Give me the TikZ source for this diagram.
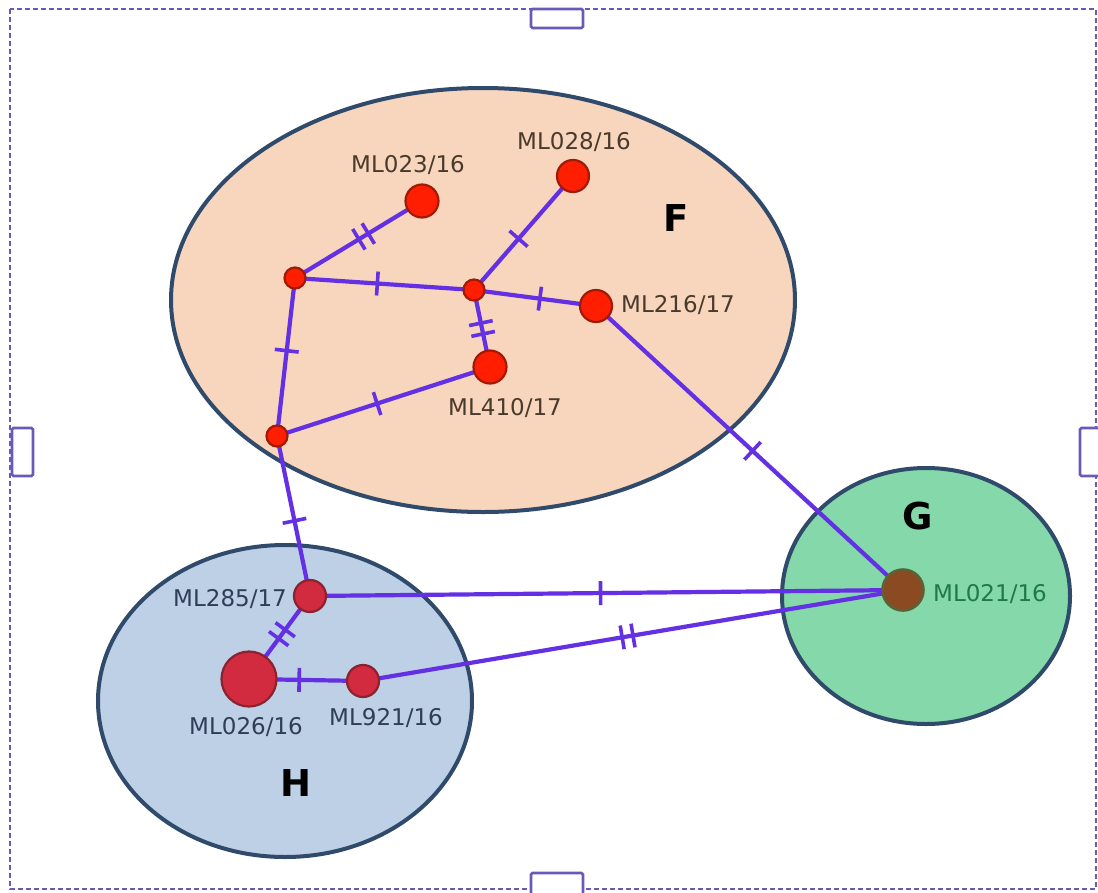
\documentclass[tikz,border=0pt]{standalone}
\usepackage{fontspec}
\setmainfont{DejaVu Sans}
\usetikzlibrary{decorations.markings}
\pgfdeclarelayer{ell}
\pgfdeclarelayer{edges}
\pgfsetlayers{ell,edges,main}
\definecolor{edgec}{HTML}{6330E4}
\definecolor{ellb}{HTML}{2F4A6A}
\definecolor{fF}{HTML}{F8D6BD}
\definecolor{fG}{HTML}{84D8A9}
\definecolor{fH}{HTML}{BDD0E6}
\definecolor{redn}{HTML}{FF1E00}
\definecolor{redb}{HTML}{A01A08}
\definecolor{hred}{HTML}{D22A3E}
\definecolor{hredb}{HTML}{8A2230}
\definecolor{brn}{HTML}{8B4A22}
\definecolor{brnb}{HTML}{5A6236}
\definecolor{txtF}{HTML}{4A3A2C}
\definecolor{txtH}{HTML}{2E3E58}
\definecolor{txtG}{HTML}{1E7A4A}
\definecolor{framec}{HTML}{6A5AB8}
\tikzset{
  x=1pt,y=-1pt,
  vtx/.style={circle,inner sep=0pt,line width=2.2pt,minimum size=#1},
  fnode/.style={vtx=#1,fill=redn,draw=redb},
  hnode/.style={vtx=#1,fill=hred,draw=hredb},
  lab/.style={font=\fontsize{23}{27}\selectfont,inner sep=0pt},
  grp/.style={font=\fontsize{37}{42}\selectfont\bfseries,inner sep=0pt},
  edge/.style={draw=edgec,line width=4.2pt},
  onetick/.style={postaction={decorate,decoration={markings,
     mark=at position #1 with {\draw[edgec,line width=3.6pt] (0pt,-12pt)--(0pt,12pt);}}}},
  twotick/.style={postaction={decorate,decoration={markings,
     mark=at position #1 with {\draw[edgec,line width=3.6pt] (-5.5pt,-12pt)--(-5.5pt,12pt) (5.5pt,-12pt)--(5.5pt,12pt);}}}},
  handle/.style={draw=framec,line width=2.6pt,fill=white,rounded corners=1.5pt},
  ellipsestyle/.style={draw=ellb,line width=4pt}
}
\begin{document}
\begin{tikzpicture}
\useasboundingbox (0,0) rectangle (1098,892);
% frame
\draw[framec,line width=2.2pt,dash pattern=on 5pt off 3pt] (10,9) rectangle (1096,889);
\draw[handle] (531,9) rectangle (583,28);
\draw[handle] (12,428) rectangle (33,476);
\draw[handle] (1080,428) rectangle (1104,476);
\draw[handle] (531,873) rectangle (583,895);

% groups
\begin{pgfonlayer}{ell}
\draw[ellipsestyle,fill=fF] (483,300) ellipse [x radius=312,y radius=212];
\draw[ellipsestyle,fill=fG] (926,596) ellipse [x radius=144,y radius=128];
\draw[ellipsestyle,fill=fH] (285,701) ellipse [x radius=187,y radius=156];
\end{pgfonlayer}
\node[grp] (F) at (676,218) {F};
\node[grp] (G) at (918,516) {G};
\node[grp] (H) at (296,783) {H};

% vertices
\node[fnode=21pt] (n1) at (295,278) {};
\node[fnode=21pt] (n2) at (474,290) {};
\node[fnode=21pt] (n3) at (277,436) {};
\node[fnode=33pt] (m023) at (422,201) {};
\node[fnode=32pt] (m028) at (573,176) {};
\node[fnode=32pt] (m216) at (596,306) {};
\node[fnode=33pt] (m410) at (490,367) {};
\node[hnode=32pt] (m285) at (310,596) {};
\node[hnode=55pt] (m026) at (249,679) {};
\node[hnode=32pt] (m921) at (363,681) {};
\node[vtx=41pt,fill=brn,draw=brnb,line width=2.6pt] (m021) at (903,590) {};

% labels
\node[lab,text=txtF] (l023) at (408,165) {ML023/16};
\node[lab,text=txtF] (l028) at (574,142) {ML028/16};
\node[lab,text=txtF,anchor=west] (l216) at (621,305) {ML216/17};
\node[lab,text=txtF] (l410) at (505,408) {ML410/17};
\node[lab,text=txtH,anchor=east] (l285) at (287,599) {ML285/17};
\node[lab,text=txtH] (l026) at (246,727) {ML026/16};
\node[lab,text=txtH] (l921) at (386,718) {ML921/16};
\node[lab,text=txtG,anchor=west] (l021) at (933,594) {ML021/16};

% edges
\begin{pgfonlayer}{edges}
\path[edge,twotick=0.54] (n1.center) -- (m023.center);
\path[edge,onetick=0.46] (n1.center) -- (n2.center);
\path[edge,onetick=0.45] (n2.center) -- (m028.center);
\path[edge,onetick=0.54] (n2.center) -- (m216.center);
\path[edge,twotick=0.5] (n2.center) -- (m410.center);
\path[edge,onetick=0.46] (n1.center) -- (n3.center);
\path[edge,onetick=0.47] (n3.center) -- (m410.center);
\path[edge,onetick=0.53] (n3.center) -- (m285.center);
\path[edge,onetick=0.51] (m216.center) -- (m021.center);
\path[edge,onetick=0.49] (m285.center) -- (m021.center);
\path[edge,twotick=0.49] (m921.center) -- (m021.center);
\path[edge,twotick=0.46] (m285.center) -- (m026.center);
\path[edge,onetick=0.44] (m026.center) -- (m921.center);
\end{pgfonlayer}
\end{tikzpicture}
\end{document}
